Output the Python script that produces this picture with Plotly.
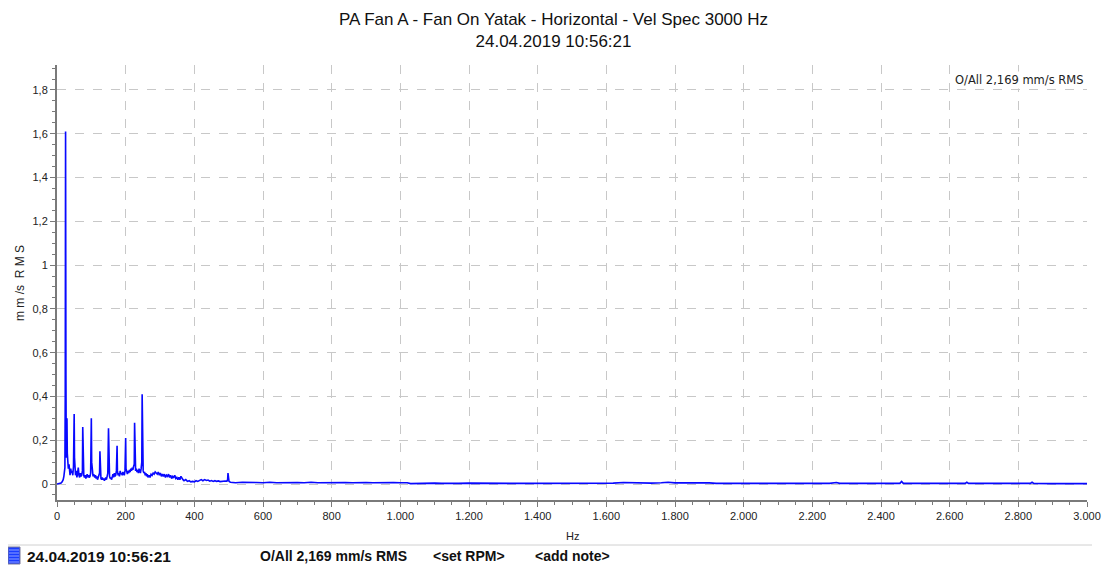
import plotly.graph_objects as go

# ---------------- data ----------------
freq_hz = [
    0, 4, 8, 12, 15, 18, 20, 21, 22, 23, 24, 25, 26, 27, 28, 29, 30, 31, 32, 33,
    35, 36, 37, 38, 40, 42, 44, 46, 48, 49, 50, 51, 52, 54, 56, 58, 60, 62, 64, 66,
    68, 70, 72, 74, 75, 76, 78, 80, 82, 84, 86, 88, 90, 92, 94, 96, 98, 99, 100, 101,
    103, 105, 107, 110, 112, 114, 116, 118, 120, 122, 124, 125, 126, 128, 130, 132, 134, 136, 138, 140,
    142, 144, 146, 148, 150, 151, 153, 155, 157, 159, 161, 163, 165, 167, 169, 171, 173, 175, 176, 178,
    180, 182, 184, 186, 188, 190, 192, 194, 196, 198, 200, 201, 203, 205, 207, 209, 211, 213, 215, 217,
    219, 221, 223, 225, 226, 227, 229, 231, 233, 235, 237, 239, 241, 243, 245, 247, 248, 249, 251, 253,
    255, 257, 259, 261, 263, 265, 268, 271, 274, 277, 280, 283, 286, 289, 292, 295, 298, 301, 304, 307,
    310, 313, 316, 319, 322, 325, 328, 331, 334, 337, 340, 343, 346, 349, 352, 355, 358, 361, 364, 367,
    370, 375, 380, 385, 390, 395, 400, 405, 410, 415, 420, 425, 430, 435, 440, 445, 450, 455, 460, 465,
    470, 475, 480, 485, 490, 495, 497, 498, 499, 501, 505, 510, 520, 540, 560, 580, 600, 620, 640, 660,
    680, 700, 720, 740, 760, 780, 800, 820, 840, 860, 880, 900, 920, 940, 960, 980, 1000, 1020, 1030, 1050,
    1080, 1100, 1120, 1150, 1170, 1200, 1230, 1250, 1280, 1300, 1330, 1360, 1400, 1450, 1500, 1550, 1580, 1600, 1620, 1650,
    1680, 1700, 1730, 1760, 1780, 1800, 1830, 1860, 1900, 1920, 1950, 2000, 2050, 2100, 2150, 2200, 2250, 2270, 2280, 2350,
    2400, 2455, 2460, 2465, 2550, 2600, 2645, 2650, 2655, 2750, 2835, 2840, 2845, 2900, 2950, 3000,
]
amp_mm_s = [
    0.000, 0.002, 0.002, 0.005, 0.010, 0.020, 0.035, 0.050, 0.070, 0.075, 0.400, 1.610, 0.500, 0.120, 0.200, 0.300, 0.140, 0.090, 0.100, 0.070,
    0.090, 0.050, 0.080, 0.040, 0.070, 0.050, 0.060, 0.040, 0.080, 0.200, 0.320, 0.120, 0.050, 0.040, 0.060, 0.030, 0.050, 0.075, 0.040, 0.030,
    0.050, 0.035, 0.040, 0.060, 0.260, 0.100, 0.040, 0.030, 0.040, 0.025, 0.035, 0.045, 0.030, 0.040, 0.030, 0.035, 0.050, 0.140, 0.300, 0.100,
    0.040, 0.035, 0.045, 0.030, 0.040, 0.025, 0.035, 0.020, 0.030, 0.040, 0.050, 0.150, 0.060, 0.025, 0.020, 0.030, 0.020, 0.025, 0.015, 0.025,
    0.030, 0.020, 0.035, 0.050, 0.255, 0.080, 0.035, 0.025, 0.030, 0.020, 0.030, 0.045, 0.030, 0.050, 0.035, 0.040, 0.060, 0.175, 0.060, 0.040,
    0.050, 0.035, 0.060, 0.045, 0.050, 0.040, 0.055, 0.050, 0.040, 0.060, 0.210, 0.070, 0.050, 0.045, 0.060, 0.050, 0.065, 0.055, 0.070, 0.060,
    0.075, 0.065, 0.080, 0.090, 0.280, 0.100, 0.060, 0.070, 0.055, 0.065, 0.050, 0.070, 0.060, 0.050, 0.070, 0.100, 0.410, 0.150, 0.060, 0.050,
    0.055, 0.040, 0.050, 0.035, 0.045, 0.030, 0.040, 0.030, 0.045, 0.040, 0.050, 0.045, 0.055, 0.050, 0.045, 0.055, 0.040, 0.050, 0.035, 0.045,
    0.035, 0.045, 0.030, 0.040, 0.035, 0.045, 0.030, 0.040, 0.025, 0.035, 0.030, 0.040, 0.025, 0.030, 0.020, 0.030, 0.020, 0.035, 0.025, 0.020,
    0.015, 0.020, 0.012, 0.015, 0.010, 0.012, 0.010, 0.015, 0.012, 0.018, 0.020, 0.015, 0.020, 0.016, 0.018, 0.013, 0.016, 0.012, 0.015, 0.012,
    0.014, 0.011, 0.013, 0.012, 0.014, 0.013, 0.020, 0.050, 0.030, 0.012, 0.008, 0.007, 0.006, 0.008, 0.006, 0.007, 0.006, 0.008, 0.006, 0.007,
    0.006, 0.007, 0.006, 0.008, 0.006, 0.007, 0.006, 0.008, 0.007, 0.006, 0.008, 0.007, 0.006, 0.007, 0.006, 0.007, 0.006, 0.006, 0.002, 0.003,
    0.002, 0.004, 0.003, 0.005, 0.003, 0.004, 0.003, 0.005, 0.003, 0.004, 0.003, 0.003, 0.003, 0.003, 0.003, 0.005, 0.004, 0.006, 0.004, 0.007,
    0.005, 0.006, 0.004, 0.006, 0.008, 0.005, 0.006, 0.004, 0.005, 0.003, 0.004, 0.003, 0.003, 0.003, 0.003, 0.003, 0.003, 0.007, 0.003, 0.003,
    0.003, 0.003, 0.012, 0.003, 0.003, 0.003, 0.003, 0.008, 0.003, 0.003, 0.003, 0.008, 0.003, 0.002, 0.002, 0.002,
]

x_tick_vals = [0, 200, 400, 600, 800, 1000, 1200, 1400, 1600, 1800, 2000, 2200, 2400, 2600, 2800, 3000]
x_tick_text = ["0", "200", "400", "600", "800", "1.000", "1.200", "1.400", "1.600", "1.800",
               "2.000", "2.200", "2.400", "2.600", "2.800", "3.000"]
y_tick_vals = [0, 0.2, 0.4, 0.6, 0.8, 1.0, 1.2, 1.4, 1.6, 1.8]
y_tick_text = ["0", "0,2", "0,4", "0,6", "0,8", "1", "1,2", "1,4", "1,6", "1,8"]

title_line1 = "PA Fan A - Fan On Yatak - Horizontal - Vel Spec 3000 Hz"
title_line2 = "24.04.2019 10:56:21"
overall_text = "O/All 2,169 mm/s RMS"
y_label = "m m /s  R M S"
x_label = "Hz"
footer_date = "24.04.2019 10:56:21"
footer_rpm = "<set RPM>"
footer_note = "<add note>"

# ---------------- figure ----------------
OFF = 8                      # browser body margin
W, H = 1110 - OFF, 572 - OFF
# plot area in reference-page pixels
L_REF, R_REF, T_REF, B_REF = 57, 1087, 65, 500
ML, MT = L_REF - OFF, T_REF - OFF
MR, MB = W - (R_REF - OFF), H - (B_REF - OFF)
PW, PH = W - ML - MR, H - MT - MB


def px(xp):
    """reference-page x pixel -> paper coordinate"""
    return (xp - OFF - ML) / PW


def py(yp):
    """reference-page y pixel -> paper coordinate"""
    return (H - MB - (yp - OFF)) / PH


tick_font = dict(family="Liberation Sans, Arial", size=11, color="#222222")
grid_col = "#c8c8c8"
axis_col = "#7a7a7a"

fig = go.Figure()
fig.add_trace(go.Scatter(
    x=freq_hz, y=amp_mm_s, mode="lines",
    line=dict(color="#0808ff", width=1.6),
    hoverinfo="skip", showlegend=False,
))

fig.update_layout(
    width=W, height=H,
    margin=dict(l=ML, r=MR, t=MT, b=MB, pad=0),
    paper_bgcolor="white", plot_bgcolor="white",
    showlegend=False,
    font=dict(family="Liberation Sans, Arial", color="#222222"),
)

fig.update_xaxes(
    range=[0, 3000], tickvals=x_tick_vals, ticktext=x_tick_text,
    showgrid=True, gridcolor=grid_col, griddash="dash", gridwidth=1,
    showline=True, linecolor=axis_col, linewidth=2,
    ticks="outside", ticklen=5, tickcolor=axis_col, tickwidth=1,
    tickfont=tick_font, zeroline=False, automargin=False,
    minor=dict(dtick=50, tick0=0, ticks="outside", ticklen=3, tickcolor=axis_col, showgrid=False),
)
fig.update_yaxes(
    range=[-0.073, 1.914], tickvals=y_tick_vals, ticktext=y_tick_text,
    showgrid=True, gridcolor=grid_col, griddash="dash", gridwidth=1,
    showline=True, linecolor=axis_col, linewidth=2,
    ticks="outside", ticklen=5, tickcolor=axis_col, tickwidth=1,
    tickfont=tick_font, zeroline=False, automargin=False,
    minor=dict(dtick=0.05, tick0=0, ticks="outside", ticklen=3, tickcolor=axis_col, showgrid=False),
)

ann = []
ann.append(dict(text=title_line1 + "<br>" + title_line2, xref="paper", yref="paper",
                x=px(553), y=py(31), xanchor="center", yanchor="middle", showarrow=False,
                font=dict(family="Liberation Sans, Arial", size=17, color="#111111")))
ann.append(dict(text=overall_text, xref="paper", yref="paper", x=px(1086), y=py(80),
                xanchor="right", yanchor="middle", showarrow=False, bgcolor="white",
                font=dict(family="DejaVu Sans, Verdana", size=11.5, color="#222222")))
ann.append(dict(text=y_label, xref="paper", yref="paper", x=px(20), y=py(283),
                xanchor="center", yanchor="middle", showarrow=False, textangle=-90,
                font=dict(family="Liberation Sans, Arial", size=12, color="#222222")))
ann.append(dict(text=x_label, xref="paper", yref="paper", x=px(572), y=py(536),
                xanchor="center", yanchor="middle", showarrow=False,
                font=dict(family="Liberation Sans, Arial", size=11, color="#222222")))


def esc(s):
    return s.replace("<", "&lt;").replace(">", "&gt;")


for txt, xl, fs in [(footer_date, 25, 15.5), (overall_text, 258, 14), (footer_rpm, 431, 14), (footer_note, 533, 14)]:
    ann.append(dict(text="<b>" + esc(txt) + "</b>", xref="paper", yref="paper", x=px(xl), y=py(556),
                    xanchor="left", yanchor="middle", showarrow=False,
                    font=dict(family="Liberation Sans, Arial", size=fs, color="#111111")))
fig.update_layout(annotations=ann)

shapes = []
# footer separator
shapes.append(dict(type="line", xref="paper", yref="paper", x0=px(8), x1=px(1092), y0=py(545), y1=py(545),
                   line=dict(color="#d0d0d0", width=1)))
# footer series icon
shapes.append(dict(type="rect", xref="paper", yref="paper", x0=px(8), x1=px(20), y0=py(564), y1=py(547),
                   fillcolor="#1a3cff", line=dict(color="#7a7a9a", width=1)))
for yy in [550, 553, 556, 559, 562]:
    shapes.append(dict(type="line", xref="paper", yref="paper", x0=px(9), x1=px(19), y0=py(yy), y1=py(yy),
                       line=dict(color="#8fa0ff", width=1)))
fig.update_layout(shapes=shapes)

fig.write_html("out.html")
